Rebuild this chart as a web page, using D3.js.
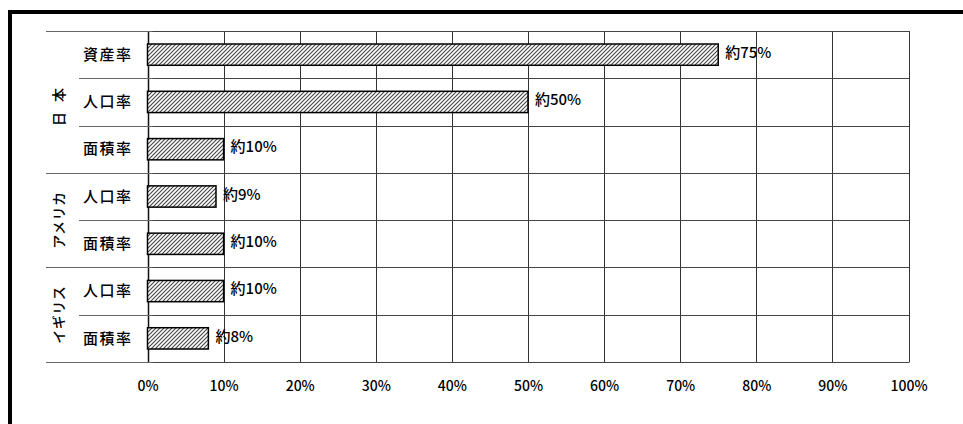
<!doctype html>
<html lang="ja">
<head>
<meta charset="utf-8">
<script src="https://cdnjs.cloudflare.com/ajax/libs/d3/7.8.5/d3.min.js"></script>
<style>
    body { margin: 0; background: #fff; }
    text { font-family: "Noto Sans CJK JP", sans-serif; fill: #000; font-weight: 500; }
</style>
</head>
<body>
<div id="chart"></div>
<script>
// rows, top to bottom
var groups = ["日本", "アメリカ", "イギリス"];
var rowGroups = ["日本", "日本", "日本", "アメリカ", "アメリカ", "イギリス", "イギリス"];
var rowLabels = ["資産率", "人口率", "面積率", "人口率", "面積率", "人口率", "面積率"];
var values = [75, 50, 10, 9, 10, 10, 8];
var valueLabels = ["約75%", "約50%", "約10%", "約9%", "約10%", "約10%", "約8%"];
var ticks = [0, 10, 20, 30, 40, 50, 60, 70, 80, 90, 100];

var width = 963, height = 424;
var plot = { left: 147.5, right: 908.5, top: 31, bottom: 362 };

var rows = values.map(function (v, i) {
    return { id: i, group: rowGroups[i], label: rowLabels[i], value: v, text: valueLabels[i] };
});

var x = d3.scaleLinear().domain([0, 100]).range([plot.left, plot.right]);
var yRow = d3.scaleBand().domain(rows.map(function (d) { return d.id; })).range([plot.top, plot.bottom]);
var yBar = d3.scaleBand().domain(yRow.domain()).range([plot.top, plot.bottom])
    .paddingInner(0.55).paddingOuter(0.275);

var svg = d3.select("#chart").append("svg")
    .attr("width", width)
    .attr("height", height);

// hatch fill
var pat = svg.append("defs").append("pattern")
    .attr("id", "hatch")
    .attr("patternUnits", "userSpaceOnUse")
    .attr("width", 4).attr("height", 4);
pat.append("rect").attr("width", 4).attr("height", 4).attr("fill", "#fff");
pat.append("path")
    .attr("d", "M-1,1 l2,-2 M0,4 l4,-4 M3,5 l2,-2")
    .attr("stroke", "#444")
    .attr("stroke-width", 1.1);

// outer frame (top and left edges visible)
svg.append("path")
    .attr("d", "M10,424 V12 H963")
    .attr("fill", "none")
    .attr("stroke", "#000")
    .attr("stroke-width", 4);

// vertical grid
svg.append("g").selectAll("line")
    .data(ticks)
    .join("line")
    .attr("x1", function (d) { return Math.round(x(d)) + 0.5; })
    .attr("x2", function (d) { return Math.round(x(d)) + 0.5; })
    .attr("y1", plot.top)
    .attr("y2", plot.bottom)
    .attr("stroke", function (d) { return d === 0 ? "#111" : "#333"; })
    .attr("stroke-width", function (d) { return d === 0 ? 1.5 : 1; });

// horizontal lines: row separators
var bounds = rows.map(function (d) { return yRow(d.id); }).concat([plot.bottom]);
var gLines = svg.append("g");
gLines.selectAll("line.grid")
    .data(bounds)
    .join("line")
    .attr("class", "grid")
    .attr("x1", plot.left)
    .attr("x2", Math.round(x(100)) + 0.5)
    .attr("y1", function (d) { return Math.round(d) + 0.5; })
    .attr("y2", function (d) { return Math.round(d) + 0.5; })
    .attr("stroke", "#444");

// label-area separators; group boundaries reach further left
gLines.selectAll("line.lab")
    .data(bounds)
    .join("line")
    .attr("class", "lab")
    .attr("x1", function (d, i) {
        var isGroupEdge = i === 0 || i === rows.length || rows[i].group !== rows[i - 1].group;
        return isGroupEdge ? 46 : 79;
    })
    .attr("x2", plot.left + 5)
    .attr("y1", function (d) { return Math.round(d) + 0.5; })
    .attr("y2", function (d) { return Math.round(d) + 0.5; })
    .attr("stroke", "#666");

// bars
svg.append("g").selectAll("rect")
    .data(rows)
    .join("rect")
    .attr("x", x(0))
    .attr("y", function (d) { return yBar(d.id); })
    .attr("width", function (d) { return x(d.value) - x(0); })
    .attr("height", yBar.bandwidth())
    .attr("fill", "url(#hatch)")
    .attr("stroke", "#000")
    .attr("stroke-width", 1.5);

// value labels
svg.append("g").selectAll("text")
    .data(rows)
    .join("text")
    .attr("x", function (d) { return x(d.value) + 7; })
    .attr("y", function (d) { return yRow(d.id) + yRow.bandwidth() / 2 - 2; })
    .attr("dy", "0.35em")
    .style("font-size", "15px")
    .text(function (d) { return d.text; });

// row labels
svg.append("g").selectAll("text")
    .data(rows)
    .join("text")
    .attr("x", 83)
    .attr("y", function (d) { return yRow(d.id) + yRow.bandwidth() / 2; })
    .attr("dy", "0.35em")
    .style("font-size", "15px")
    .style("letter-spacing", "1.5px")
    .text(function (d) { return d.label; });

// group labels, rotated
svg.append("g").selectAll("text")
    .data(groups)
    .join("text")
    .attr("transform", function (g) {
        var gr = rows.filter(function (d) { return d.group === g; });
        var y0 = yRow(gr[0].id), y1 = yRow(gr[gr.length - 1].id) + yRow.bandwidth();
        return "translate(59," + ((y0 + y1) / 2) + ") rotate(-90)";
    })
    .attr("text-anchor", "middle")
    .attr("dy", "0.35em")
    .style("font-size", "14px")
    .style("letter-spacing", function (g) { return g.length === 2 ? "10px" : "0.5px"; })
    .text(function (g) { return g; });

// x axis labels
var xAxis = d3.axisBottom(x)
    .tickValues(ticks)
    .tickSize(0)
    .tickPadding(19)
    .tickFormat(function (d) { return d + "%"; });
var ax = svg.append("g")
    .attr("transform", "translate(0," + plot.bottom + ")")
    .call(xAxis);
ax.select(".domain").remove();
ax.selectAll("text")
    .style("font-family", "'Noto Sans CJK JP', sans-serif")
    .style("font-size", "14px")
    .style("font-weight", "500")
    .attr("fill", "#000");
</script>
</body>
</html>
